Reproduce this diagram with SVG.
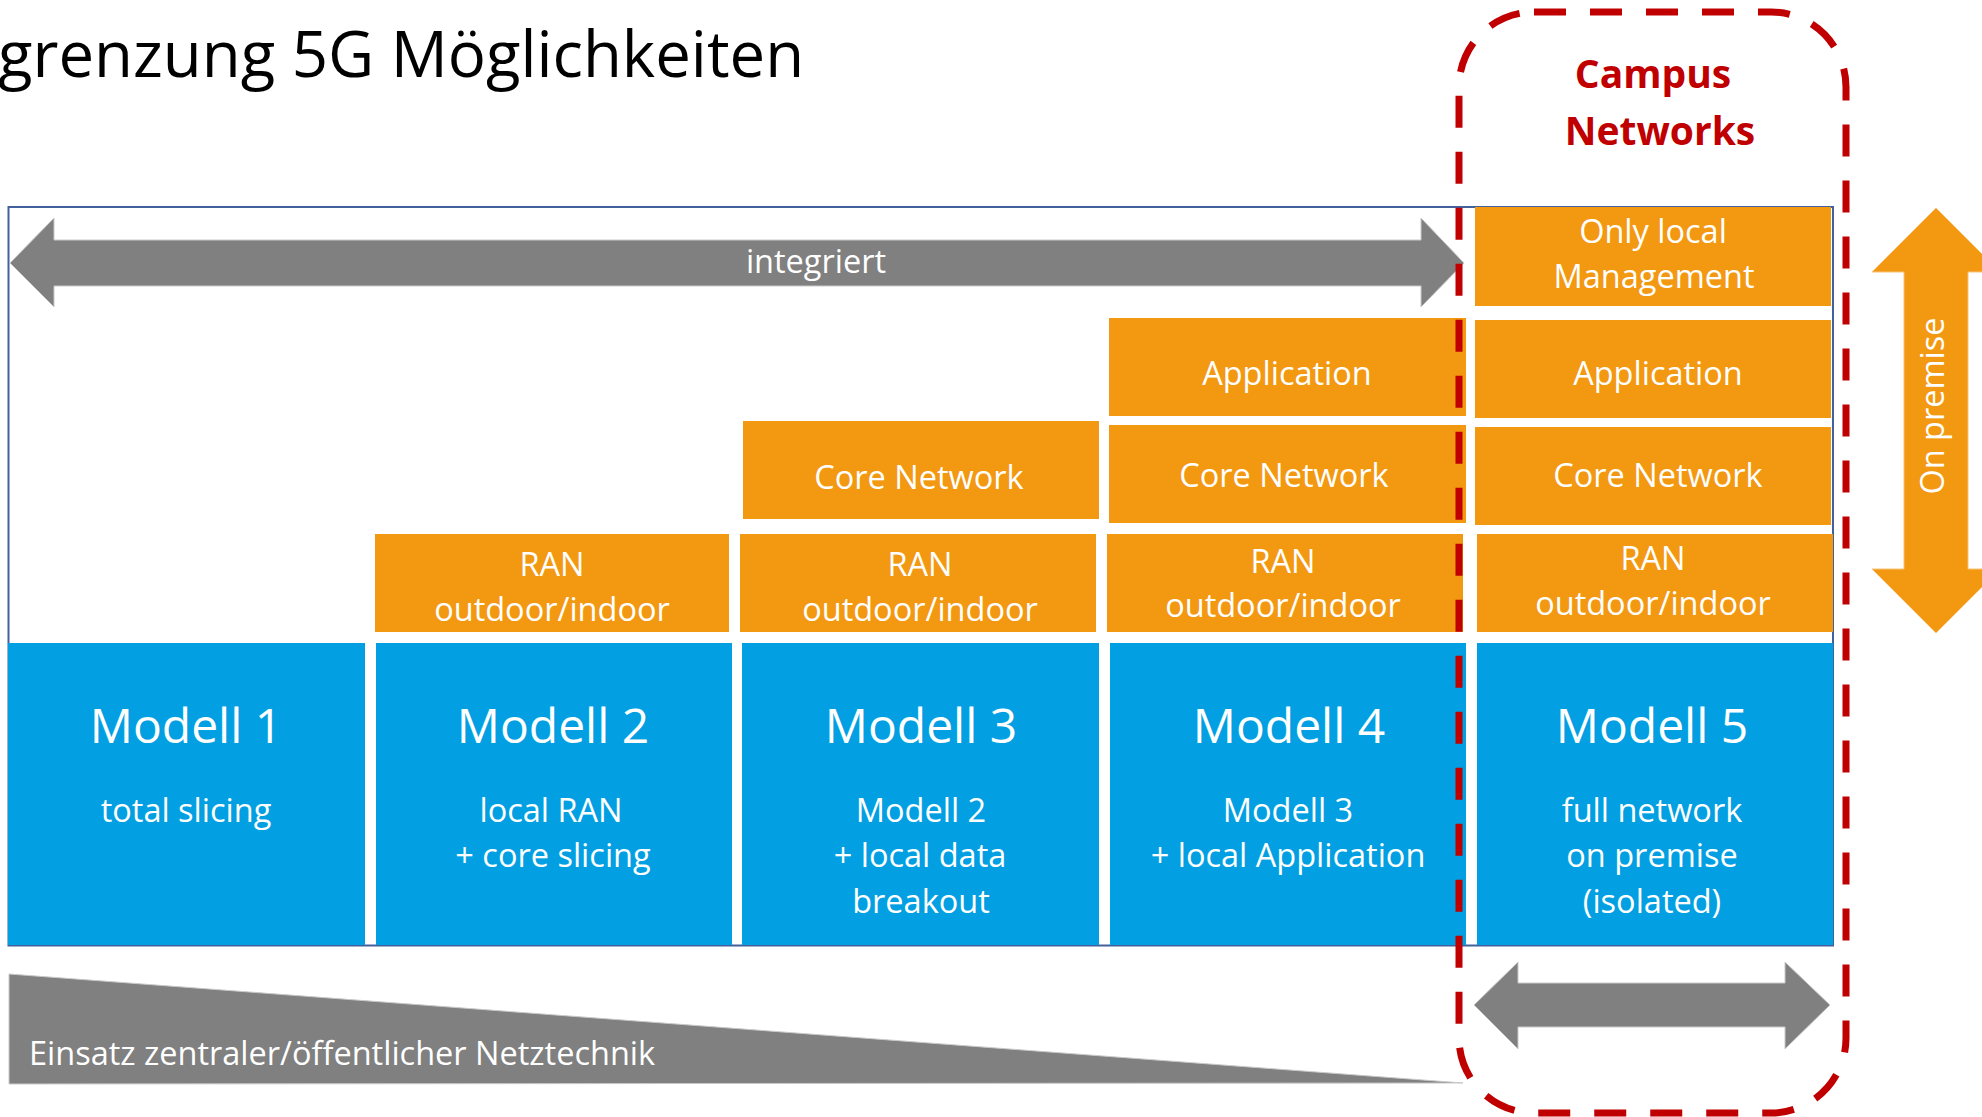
<svg xmlns="http://www.w3.org/2000/svg" width="1982" height="1117" viewBox="0 0 1982 1117">
<style>
text{font-family:"Open Sans","Liberation Sans",sans-serif;fill:#fff;text-anchor:middle}
.t{font-size:32.5px}
.big{font-size:48px}
.or{fill:#F39811}
.bl{fill:#029FE2}
.gr{fill:#808080;stroke:#C9C9C9;stroke-width:1}
.title{font-size:63.5px;fill:#000;text-anchor:start}
.campus{font-size:39px;font-weight:bold;fill:#C00000}
</style>
<rect width="1982" height="1117" fill="#fff"/>
<text class="title" x="-2" y="77">grenzung 5G Möglichkeiten</text>
<rect id="frame" x="8.5" y="207" width="1824.5" height="738.5" fill="none" stroke="#41609C" stroke-width="2"/>
<g id="connectors">
<polygon class="gr" points="10,263 54,218 54,240 1421,240 1421,218 1464,263 1421,307 1421,286 54,286 54,307"/>
<text class="t" x="816" y="273">integriert</text>
<polygon class="gr" points="1474,1005 1518,962 1518,983 1785,983 1785,962 1830,1005 1785,1049 1785,1027 1518,1027 1518,1049"/>
<polygon fill="#F39811" stroke="#F8C27A" stroke-width="1" points="1936,208 2000,272 1968,272 1968,569 2000,569 1936,633 1872,569 1904,569 1904,272 1872,272"/>
<text class="t" transform="translate(1944,406) rotate(-90)" x="0" y="0">On premise</text>
</g>
<g id="modell1">
<rect class="bl" x="8" y="643" width="357" height="302"/>
<text class="big" x="186" y="743">Modell 1</text>
<text class="t" x="186" y="822">total slicing</text>
</g>
<g id="modell2">
<rect class="or" x="375" y="534" width="354" height="98"/>
<text class="t" x="552" y="576">RAN</text>
<text class="t" x="552" y="621">outdoor/indoor</text>
<rect class="bl" x="376" y="643" width="356" height="302"/>
<text class="big" x="553" y="743">Modell 2</text>
<text class="t" x="551" y="822">local RAN</text>
<text class="t" x="553" y="867">+ core slicing</text>
</g>
<g id="modell3">
<rect class="or" x="743" y="421" width="356" height="98"/>
<text class="t" x="919" y="489">Core Network</text>
<rect class="or" x="740" y="534" width="356" height="98"/>
<text class="t" x="920" y="576">RAN</text>
<text class="t" x="920" y="621">outdoor/indoor</text>
<rect class="bl" x="742" y="643" width="357" height="302"/>
<text class="big" x="921" y="743">Modell 3</text>
<text class="t" x="921" y="822">Modell 2</text>
<text class="t" x="920" y="867">+ local data</text>
<text class="t" x="921" y="913">breakout</text>
</g>
<g id="modell4">
<rect class="or" x="1109" y="318" width="357" height="98"/>
<text class="t" x="1287" y="385">Application</text>
<rect class="or" x="1109" y="425" width="357" height="98"/>
<text class="t" x="1284" y="487">Core Network</text>
<rect class="or" x="1107" y="534" width="356" height="98"/>
<text class="t" x="1283" y="573">RAN</text>
<text class="t" x="1283" y="617">outdoor/indoor</text>
<rect class="bl" x="1110" y="643" width="356" height="302"/>
<text class="big" x="1289" y="743">Modell 4</text>
<text class="t" x="1288" y="822">Modell 3</text>
<text class="t" x="1288" y="867">+ local Application</text>
</g>
<g id="modell5">
<rect class="or" x="1475" y="207" width="356" height="99"/>
<text class="t" x="1653" y="243">Only local</text>
<text class="t" x="1654" y="288">Management</text>
<rect class="or" x="1475" y="320" width="356" height="98"/>
<text class="t" x="1658" y="385">Application</text>
<rect class="or" x="1475" y="427" width="356" height="98"/>
<text class="t" x="1658" y="487">Core Network</text>
<rect class="or" x="1477" y="534" width="356" height="98"/>
<text class="t" x="1653" y="570">RAN</text>
<text class="t" x="1653" y="615">outdoor/indoor</text>
<rect class="bl" x="1477" y="643" width="356" height="302"/>
<text class="big" x="1652" y="743">Modell 5</text>
<text class="t" x="1652" y="822">full network</text>
<text class="t" x="1652" y="867">on premise</text>
<text class="t" x="1652" y="913">(isolated)</text>
</g>
<g id="einsatz">
<polygon class="gr" points="9,974 1463,1083 9,1084"/>
<text class="t" x="29" y="1065" style="text-anchor:start">Einsatz zentraler/öffentlicher Netztechnik</text>
</g>
<g id="campus">
<text class="campus" x="1653" y="88">Campus</text>
<text class="campus" x="1660" y="145">Networks</text>
<rect x="1459" y="12" width="387" height="1101" rx="75" ry="75" fill="none" stroke="#C00000" stroke-width="7" stroke-dasharray="32 24"/>
</g>
</svg>
